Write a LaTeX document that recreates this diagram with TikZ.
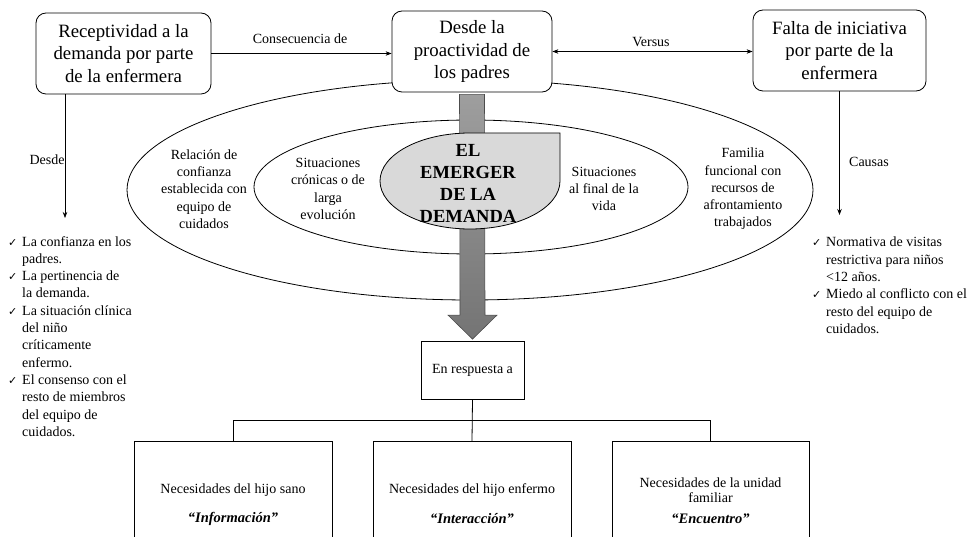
\documentclass[tikz,border=0pt]{standalone}
\usepackage{fontspec}
\setmainfont{Liberation Serif}
\newfontfamily\symfont{DejaVu Sans}
\usetikzlibrary{arrows.meta,calc}
\definecolor{emfill}{RGB}{217,217,217}
\definecolor{arrtop}{RGB}{158,158,158}
\definecolor{arrbot}{RGB}{116,116,116}
\newcommand{\chk}{\makebox[14pt][l]{\symfont\fontsize{11}{11}\selectfont ✓}}
\newcommand{\ind}{\hspace*{14pt}}
\begin{document}
\begin{tikzpicture}[x=1pt,y=1pt,
  tbox/.style={draw, rounded corners=10pt, fill=white, line width=0.8pt, align=center,
    font=\fontsize{18.8}{22.5}\selectfont, inner sep=0pt},
  small/.style={font=\fontsize{14}{17.3}\selectfont, inner sep=0pt},
  lbl/.style={small, align=center},
  lst/.style={small, align=left, anchor=north west},
  conn/.style={line width=0.7pt, -{Stealth[length=6pt,width=4.5pt]}},
  plainbox/.style={draw, line width=0.8pt, fill=white, inner sep=0pt},
  btext/.style={font=\fontsize{14}{15}\selectfont, inner sep=0pt, align=center},
  bkey/.style={font=\bfseries\itshape\fontsize{14.5}{15}\selectfont, inner sep=0pt},
]
\useasboundingbox (0,0) rectangle (969,-537);
\clip (0,0) rectangle (969,-537);

% ellipses
\draw[line width=0.8pt] (470,-190) ellipse [x radius=343pt, y radius=110pt];
\draw[line width=0.8pt] (471,-187) ellipse [x radius=217pt, y radius=67pt];

% top boxes
\node[tbox, minimum width=175pt, minimum height=81pt] (b1) at (123.5,-53.5)
  {Receptividad a la\\demanda por parte\\de la enfermera};
\node[tbox, minimum width=160pt, minimum height=81pt] (b2) at (472,-51.5)
  {Desde la\\proactividad de\\los padres};
\node[tbox, minimum width=173pt, minimum height=81pt] (b3) at (839.5,-50.5)
  {Falta de iniciativa\\por parte de la\\enfermera};

% connectors between top boxes
\draw[conn] (b1.east) -- (b1.east -| b2.west);
\node[lbl] (lcons) at (300,-39) {Consecuencia de};
\draw[line width=0.7pt, {Stealth[length=6pt,width=4.5pt]}-{Stealth[length=6pt,width=4.5pt]}]
  (b2.east) -- (b2.east -| b3.west);
\node[lbl] (lvers) at (651,-42) {Versus};

\coordinate (lt) at (65,-218);
\draw[conn] (b1.south -| lt) -- (lt);
\node[lbl] (ldesde) at (47,-160) {Desde};
\coordinate (rt) at (839.5,-215);
\draw[conn] (b3.south) -- (rt);
\node[lbl] (lcaus) at (869,-162) {Causas};

% response box
\node[plainbox, small, minimum width=103pt, minimum height=58pt] (resp) at (472.5,-370) {En respuesta a};

% big gray arrow
\coordinate (at) at ($(b2.south)+(0,-2)$);
\coordinate (ab) at ($(resp.north)+(0,1.5)$);
\path[draw=black!70, line width=0.6pt, top color=arrtop, bottom color=arrbot]
  ($(at)+(-12.5,0)$) -- ($(at)+(12.5,0)$) -- ($(ab)+(12.5,24)$) -- ($(ab)+(24.5,24)$)
  -- (ab) -- ($(ab)+(-24.5,24)$) -- ($(ab)+(-12.5,24)$) -- cycle;

% emerger shape
\filldraw[fill=emfill, draw=black, line width=0.8pt] (560,-133) -- (560,-181)
  arc[start angle=0, end angle=-270, x radius=90pt, y radius=48pt] -- cycle;
\node[font=\bfseries\fontsize{18.5}{22}\selectfont, align=center, inner sep=0pt] (em) at (468,-183)
  {EL\\EMERGER\\DE LA\\DEMANDA};

% ellipse texts
\node[lbl] (t1) at (204,-189) {Relación de\\confianza\\establecida con\\equipo de\\cuidados};
\node[lbl] (t2) at (328,-189) {Situaciones\\crónicas o de\\larga\\evolución};
\node[lbl] (t3) at (604,-189) {Situaciones\\al final de la\\vida};
\node[lbl] (t4) at (743,-189) {Familia\\funcional con\\recursos de\\afrontamiento\\trabajados};

% lists
\node[lst] (lL) at (8,-236) {\chk La confianza en los\\\ind padres.\\\chk La pertinencia de\\\ind la demanda.\\\chk La situación clínica\\\ind del niño\\\ind críticamente\\\ind enfermo.\\\chk El consenso con el\\\ind resto de miembros\\\ind del equipo de\\\ind cuidados.};
\node[lst] (lR) at (812,-237) {\chk Normativa de visitas\\\ind restrictiva para niños\\\ind <12 años.\\\chk Miedo al conflicto con el\\\ind resto del equipo de\\\ind cuidados.};

% bottom boxes
\node[plainbox, minimum width=198pt, minimum height=110pt, anchor=north] (bA) at (233,-441) {};
\node[plainbox, minimum width=198pt, minimum height=110pt, anchor=north] (bB) at (472,-441) {};
\node[plainbox, minimum width=197pt, minimum height=110pt, anchor=north] (bC) at (710.5,-441) {};
\draw[line width=0.8pt] (resp.south) -- (bB.north);
\draw[line width=0.8pt] (bA.north) -- ++(0,21) -| (bC.north);

\node[btext] (tA1) at (233,-490) {Necesidades del hijo sano};
\node[bkey] (tA2) at (233,-519) {“Información”};
\node[btext] (tB1) at (472,-490) {Necesidades del hijo enfermo};
\node[bkey] (tB2) at (472,-519) {“Interacción”};
\node[btext] (tC1) at (710.5,-490) {Necesidades de la unidad\\familiar};
\node[bkey] (tC2) at (710.5,-519) {“Encuentro”};
\end{tikzpicture}
\end{document}
